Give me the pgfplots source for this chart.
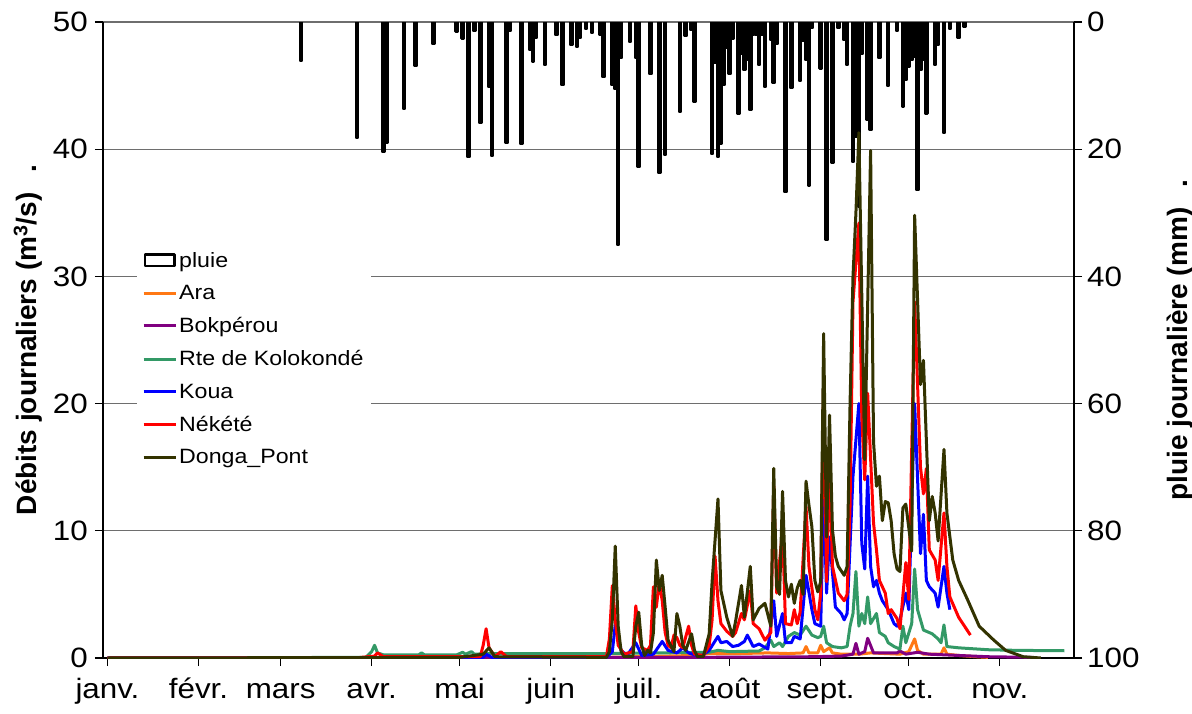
\documentclass[border=0pt]{standalone}
\usepackage{pgfplots}
\usepackage{pgfplotstable}
\pgfplotsset{compat=1.18}
\usepackage{fontspec}
\setmainfont{Liberation Sans}[FakeStretch=1.12]
\newfontfamily\labelfont{Liberation Sans}
\newcommand\tickfont{\fontsize{28}{30}\selectfont}
\newcommand\legfont{\fontsize{20.7}{23}\selectfont}

\definecolor{ara}{RGB}{255,120,20}
\definecolor{bok}{RGB}{128,0,128}
\definecolor{kolo}{RGB}{51,153,102}
\definecolor{koua}{RGB}{0,0,255}
\definecolor{nek}{RGB}{255,0,0}
\definecolor{donga}{RGB}{51,51,0}
\definecolor{gridgray}{RGB}{110,110,110}

% daily rainfall (mm), day of year (0 = 1 January)
\pgfplotstableread{
day mm
66 6.1
85 18.2
94 20.5
95 19.0
101 13.7
105 6.9
111 3.5
119 1.5
121 2.6
123 21.2
125 1.4
127 15.9
130 10.2
131 21.1
136 19.0
137 1.4
141 19.2
144 4.4
145 6.2
146 2.5
149 6.8
153 2.0
155 9.9
158 3.6
160 3.9
161 2.5
163 1.1
165 1.7
168 2.0
169 8.7
172 9.9
173 10.5
174 35.1
175 5.7
178 3.2
180 5.6
181 22.8
185 8.2
188 23.7
190 20.9
195 14.1
197 2.2
199 1.2
200 12.5
206 20.8
207 6.5
208 21.2
209 19.1
210 9.9
211 4.0
212 8.2
213 2.6
215 14.4
216 5.0
217 7.5
218 6.0
219 13.8
220 2.0
221 2.0
222 6.8
223 2.0
224 10.2
226 2.8
227 9.6
228 3.4
231 26.7
233 10.4
236 9.3
237 3.0
238 6.0
239 25.7
240 1.0
243 7.3
245 34.3
247 22.1
249 1.0
251 2.8
252 6.7
254 22.0
255 18.0
256 29.0
257 5.0
259 15.4
260 17.0
263 5.7
266 10.0
269 1.4
271 13.3
272 9.1
273 7.0
274 6.0
275 5.5
276 26.4
277 7.5
278 6.0
279 14.4
282 6.7
283 3.6
285 17.5
287 1.1
290 2.5
292 0.7
}\pluie

% daily discharge (m3/s)
\pgfplotstableread{
day q
0 0
170 0.05
200 0.2
205 0.35
215 0.35
225 0.4
232 0.35
237 0.4
238 0.9
239 0.4
242 0.4
243 1.0
244 0.5
246 0.8
247 0.4
250 0.3
256 0.3
260 0.4
265 0.35
270 0.3
273 0.5
275 1.5
276 0.6
278 0.3
284 0.3
285 0.8
286 0.3
290 0.2
296 0.1
300 0.05
}\ara

\pgfplotstableread{
day q
0 0
200 0.05
240 0.1
250 0.15
254 0.3
255 1.15
256 0.3
258 0.5
259 1.55
261 0.4
266 0.4
269 0.4
270 0.55
272 0.3
276 0.45
280 0.3
290 0.2
300 0.1
315 0.05
}\bok

\pgfplotstableread{
day q
0 0
88 0.05
90 0.5
91 1.0
92 0.4
94 0.25
106 0.25
107 0.4
108 0.25
119 0.25
121 0.45
122 0.3
124 0.5
125 0.3
130 0.35
170 0.35
205 0.45
208 0.6
212 0.5
222 0.55
224 0.8
225 1.1
226 1.4
227 0.9
229 1.2
230 0.9
232 1.7
234 2.0
236 1.8
238 2.5
240 1.8
242 1.6
243 1.7
244 2.5
245 1.2
247 0.9
250 0.8
252 0.9
253 2.5
254 3.5
255 6.8
256 2.5
257 3.5
258 2.7
259 4.8
260 2.7
262 3.5
263 2.0
265 1.7
266 1.2
268 0.9
270 0.7
271 2.5
272 1.2
274 2.7
275 7.0
276 3.8
278 2.2
281 1.9
283 1.5
284 1.2
285 2.6
286 0.9
290 0.8
300 0.65
310 0.6
326 0.57
}\kolo

\pgfplotstableread{
day q
0 0
128 0.05
129 0.3
131 0.05
170 0.05
172 0.5
173 2.6
175 0.6
177 0.2
180 1.2
182 0.2
186 0.3
189 1.3
191 0.6
194 0.4
196 0.8
198 0.4
202 0.1
205 0.6
208 1.7
209 1.2
211 1.3
213 0.9
215 1.0
217 1.3
218 1.8
220 0.9
222 1.1
225 0.7
227 4.5
228 1.7
230 3.5
231 1.2
233 1.2
234 1.7
236 1.5
238 6.5
240 3.8
241 2.7
243 2.5
244 13.0
245 5.1
246 9.5
248 4.0
250 3.5
251 3.0
252 3.5
254 14.3
256 20.0
257 9.0
258 7.0
259 14.3
260 7.2
261 5.6
262 6.1
263 5.1
264 4.5
266 3.8
268 2.7
269 2.5
270 3.0
272 5.1
273 3.8
275 20.0
277 8.2
278 11.3
279 6.1
280 5.6
282 5.1
283 4.0
285 7.2
286 5.1
287 3.8
}\koua

\pgfplotstableread{
day q
0 0
85 0.02
91 0.15
92 0.4
94 0.1
127 0.1
128 1.0
129 2.3
130 0.8
132 0.1
134 0.5
136 0.1
150 0.1
170 0.1
171 1.5
172 5.7
173 3.0
174 1.0
176 0.3
179 0.5
180 4.1
181 2.0
182 0.8
184 0.6
185 1.0
186 5.6
187 4.0
188 6.0
189 4.5
190 2.0
191 1.0
192 0.8
193 1.8
194 1.6
195 1.0
196 0.8
198 2.5
199 1.0
200 0.3
203 0.2
205 1.0
206 3.0
207 8.0
208 4.5
209 2.7
211 2.1
213 1.7
214 2.0
216 3.5
217 3.0
219 5.3
220 2.7
222 2.3
224 1.4
226 2.0
227 13.5
228 5.1
230 10.1
231 2.7
233 2.6
234 3.8
235 2.7
236 3.6
238 11.9
239 7.2
241 3.8
242 3.0
243 5.1
244 22.0
245 6.0
246 15.6
247 7.2
249 5.1
251 4.5
252 5.0
253 12.0
254 28.0
256 34.2
257 19.0
258 14.0
259 20.8
261 10.6
262 8.5
263 6.1
265 5.1
266 3.5
267 3.8
269 3.1
270 2.3
272 7.5
273 4.6
275 28.0
277 15.0
278 12.9
279 14.9
280 8.5
282 7.7
283 6.1
285 11.4
286 7.2
287 4.8
290 3.2
294 1.8
}\nek

\pgfplotstableread{
day q
0 0
120 0.05
128 0.3
130 0.8
132 0.1
170 0.05
171 0.5
172 3.0
173 8.8
174 2.5
175 0.5
176 0.1
179 0.1
180 2.5
181 3.6
182 1.0
183 0.2
184 0.6
185 0.4
186 2.0
187 7.7
188 5.3
189 6.5
190 4.0
191 1.4
193 0.5
194 3.5
195 2.5
196 1.0
197 0.6
199 1.9
200 0.6
201 0.1
203 0.1
205 1.9
206 6.0
208 12.5
209 5.3
211 3.2
213 1.7
214 2.9
216 5.7
217 3.2
219 7.2
220 3.0
222 3.9
224 4.3
226 2.5
227 14.9
228 5.6
229 5.0
230 13.1
231 6.1
232 4.8
233 5.8
234 4.3
235 5.5
236 6.1
237 5.0
238 13.9
239 12.0
240 10.3
241 6.1
242 5.2
243 6.0
244 25.5
245 9.5
246 19.1
247 10.1
248 8.0
249 7.2
251 6.5
252 7.2
253 20.0
254 30.0
255 35.0
256 41.3
258 15.6
260 39.9
261 17.0
262 13.5
263 14.3
264 10.8
265 12.3
266 12.2
267 10.8
268 8.2
269 7.0
270 6.8
271 11.8
272 12.1
274 8.4
275 34.8
277 21.5
278 23.4
280 10.8
281 12.7
282 11.4
283 9.2
285 16.4
286 11.4
288 7.7
290 6.1
293 4.6
297 2.5
302 1.4
306 0.6
312 0.1
318 0.0
}\donga

\begin{document}
\begin{tikzpicture}[x=1pt,y=1pt]
\path[use as bounding box] (-103,-55) rectangle (1089,658);

% rainfall, reversed right axis
\begin{axis}[
  at={(0,0)}, anchor=south west, scale only axis,
  width=971pt, height=636pt,
  xmin=-1.53, xmax=329.3, ymin=0, ymax=100, y dir=reverse,
  axis x line=none, axis y line*=right,
  ytick={0,20,...,100},
  ymajorgrids, grid style={gridgray, line width=1.2pt},
  tick align=outside, major tick length=8pt,
  ytick style={black, line width=1.2pt},
  axis line style={black, line width=1.5pt},
  yticklabel style={font=\tickfont, inner sep=0pt, xshift=5pt},
  /pgf/number format/assume math mode=true,
  ylabel={\labelfont\bfseries\fontsize{28}{30}\selectfont pluie journalière (mm)\hspace{20pt}.},
  ylabel style={at={(axis description cs:1.109,0.5)}, anchor=center},
]
\addplot[ybar, bar width=0.8, fill=black, draw=black, line width=2.2pt, line join=round] table[x=day, y=mm] {\pluie};
\end{axis}

% discharge, left axis
\begin{axis}[
  at={(0,0)}, anchor=south west, scale only axis,
  width=971pt, height=636pt,
  xmin=-1.53, xmax=329.3, ymin=0, ymax=50,
  axis x line*=bottom, axis y line*=left,
  xtick={0,31,59,90,120,151,181,212,243,273,304},
  xticklabels={janv.,févr.,mars,avr.,mai,juin,juil.,août,sept.,oct.,nov.},
  ytick={0,10,...,50},
  tick align=outside, major tick length=8pt,
  tick style={black, line width=1.2pt},
  axis line style={black, line width=1.5pt},
  xticklabel style={font=\tickfont, inner sep=0pt, text height=20pt, text depth=6pt, yshift=-12pt},
  yticklabel style={font=\tickfont, inner sep=0pt, xshift=-7pt},
  /pgf/number format/assume math mode=true,
  ylabel={\labelfont\bfseries\fontsize{28}{30}\selectfont Débits journaliers (m\textsuperscript{3}/s)\hspace{20pt}.},
  ylabel style={at={(axis description cs:-0.0772,0.5)}, anchor=center},
  no marks,
  every axis plot/.append style={line width=3pt, line join=round},
  legend image code/.code={\draw[#1] (0pt,0pt) -- (32pt,0pt);},
  legend cell align=left,
  legend style={at={(axis description cs:0.035,0.6478)}, anchor=north west,
    fill=white, draw=none, font=\legfont, inner xsep=5pt, inner ysep=4pt,
    row sep=12.5pt},
]
\addlegendimage{legend image code/.code={\draw[black, line width=2.8pt] (1.4pt,-5.6pt) rectangle (30.6pt,5.6pt);}}
\addlegendentry{pluie}
\addplot[ara] table[x=day, y=q] {\ara};
\addlegendentry{Ara}
\addplot[bok] table[x=day, y=q] {\bok};
\addlegendentry{Bokpérou}
\addplot[kolo] table[x=day, y=q] {\kolo};
\addlegendentry{Rte de Kolokondé}
\addplot[koua] table[x=day, y=q] {\koua};
\addlegendentry{Koua}
\addplot[nek] table[x=day, y=q] {\nek};
\addlegendentry{Nékété}
\addplot[donga] table[x=day, y=q] {\donga};
\addlegendentry{Donga\_Pont}
\end{axis}
\end{tikzpicture}
\end{document}
